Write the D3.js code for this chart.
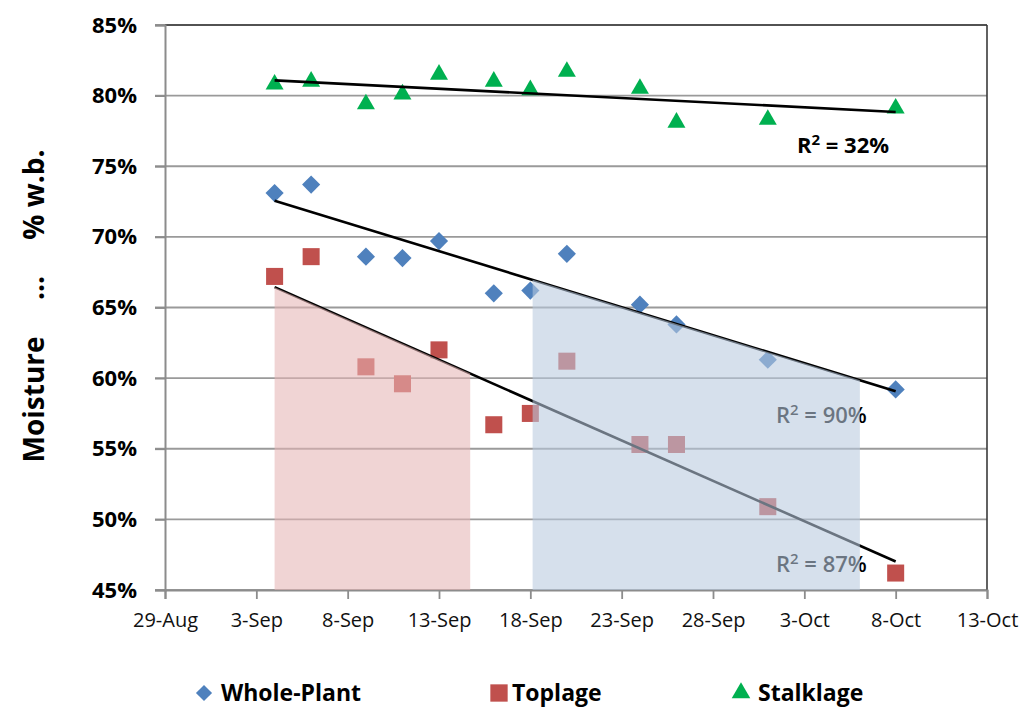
<!DOCTYPE html>
<html>
<head>
<meta charset="utf-8" />
<title>moisture</title>
<script src="https://cdn.jsdelivr.net/npm/d3@7"></script>
<style>
  body { margin: 0; background: #fff; }
  text { font-family: "Open Sans", sans-serif; }
</style>
</head>
<body>
<svg width="1024" height="707"></svg>
<script>
// sample dates and moisture (% w.b.)
var dates = ["2011-09-04", "2011-09-06", "2011-09-09", "2011-09-11", "2011-09-13", "2011-09-16",
             "2011-09-18", "2011-09-20", "2011-09-24", "2011-09-26", "2011-10-01", "2011-10-08"];
var wholePlant = [73.1, 73.7, 68.6, 68.5, 69.7, 66.0, 66.2, 68.8, 65.2, 63.8, 61.3, 59.2];
var toplage    = [67.2, 68.6, 60.8, 59.6, 62.0, 56.7, 57.5, 61.2, 55.3, 55.3, 50.9, 46.2];
var stalklage  = [80.8, 81.0, 79.4, 80.1, 81.5, 81.0, 80.4, 81.7, 80.5, 78.1, 78.3, 79.1];

var seriesNames = ["Whole-Plant", "Toplage", "Stalklage"];
var r2Labels = ["90%", "87%", "32%"];

// axis ticks
var xTickDates = ["2011-08-29", "2011-09-03", "2011-09-08", "2011-09-13", "2011-09-18",
                  "2011-09-23", "2011-09-28", "2011-10-03", "2011-10-08", "2011-10-13"];
var xTickLabels = ["29-Aug", "3-Sep", "8-Sep", "13-Sep", "18-Sep", "23-Sep", "28-Sep", "3-Oct", "8-Oct", "13-Oct"];
var yTicks = [45, 50, 55, 60, 65, 70, 75, 80, 85];

// shaded windows (under the trendlines)
var toplageWindow = ["2011-09-04T00:00", "2011-09-14T17:00"];
var wholeWindow   = ["2011-09-18T03:00", "2011-10-06T01:00"];

var parse = d3.timeParse("%Y-%m-%d");
var parseT = d3.timeParse("%Y-%m-%dT%H:%M");

var svg = d3.select("svg");
var plot = {left: 165, right: 987, top: 25, bottom: 590};

var x = d3.scaleTime()
  .domain([parse(xTickDates[0]), parse(xTickDates[xTickDates.length - 1])])
  .range([plot.left, plot.right]);
var y = d3.scaleLinear().domain([45, 85]).range([plot.bottom, plot.top]);

var colors = ["#4f81bd", "#c0504d", "#00b050"];

// gridlines
svg.append("g").selectAll("line").data(yTicks).join("line")
  .attr("x1", plot.left - 10).attr("x2", plot.right)
  .attr("y1", function(d){ return y(d); }).attr("y2", function(d){ return y(d); })
  .attr("stroke", "#9a9a9a").attr("stroke-width", 1.8);

// plot border: top and right darker
svg.append("line").attr("x1", plot.left).attr("x2", plot.right).attr("y1", plot.top).attr("y2", plot.top)
  .attr("stroke", "#3a3a3a").attr("stroke-width", 1.6);
svg.append("line").attr("x1", plot.right).attr("x2", plot.right).attr("y1", plot.top).attr("y2", plot.bottom)
  .attr("stroke", "#3a3a3a").attr("stroke-width", 1.6);

// y axis
var yAxis = svg.append("g").attr("transform", "translate(" + plot.left + ",0)")
  .call(d3.axisLeft(y).tickValues(yTicks).tickSize(10).tickPadding(18)
    .tickFormat(function(d){ return d + "%"; }));
yAxis.select(".domain").attr("stroke", "#8c8c8c").attr("stroke-width", 2);
yAxis.selectAll(".tick line").attr("stroke", "#8c8c8c").attr("stroke-width", 1.8);
yAxis.selectAll("text").attr("font-size", 22).attr("font-weight", "bold")
  .attr("fill", "#000").attr("font-family", "Open Sans");

// x axis
var xAxis = svg.append("g").attr("transform", "translate(0," + plot.bottom + ")")
  .call(d3.axisBottom(x).tickValues(xTickDates.map(parse)).tickSize(9).tickPadding(14)
    .tickFormat(function(d, i){ return xTickLabels[i]; }));
xAxis.select(".domain").attr("stroke", "#8c8c8c").attr("stroke-width", 2);
xAxis.selectAll(".tick line").attr("stroke", "#8c8c8c").attr("stroke-width", 1.8);
xAxis.selectAll("text").attr("font-size", 20).attr("fill", "#111")
  .attr("font-family", "Open Sans");

// y title
svg.append("text")
  .attr("transform", "translate(44,306) rotate(-90)")
  .attr("text-anchor", "middle")
  .attr("font-size", 28).attr("font-weight", "bold")
  .style("white-space", "pre")
  .text("Moisture     ...     % w.b.");

// data
var series = [wholePlant, toplage, stalklage].map(function(vals, i){
  return { name: seriesNames[i], color: colors[i],
    points: vals.map(function(v, j){ return { date: parse(dates[j]), value: v }; }) };
});

var shapes = [
  d3.symbol().type(d3.symbolSquare).size(165),
  d3.symbol().type(d3.symbolSquare).size(290),
  d3.symbol().type(d3.symbolTriangle).size(140)
];
var rot = [45, 0, 0];

series.forEach(function(s, i){
  svg.append("g").selectAll("path").data(s.points).join("path")
    .attr("d", shapes[i]())
    .attr("transform", function(d){
      return "translate(" + x(d.date) + "," + y(d.value) + ") rotate(" + rot[i] + ")";
    })
    .attr("fill", s.color);
});

// linear trendlines
function fit(points) {
  var xs = points.map(function(p){ return p.date.getTime() / 864e5; });
  var ys = points.map(function(p){ return p.value; });
  var mx = d3.mean(xs), my = d3.mean(ys);
  var sxy = d3.sum(xs, function(v, k){ return (v - mx) * (ys[k] - my); });
  var sxx = d3.sum(xs, function(v){ return (v - mx) * (v - mx); });
  var b = sxy / sxx, a = my - b * mx;
  return function(date){ return a + b * date.getTime() / 864e5; };
}
var fits = series.map(function(s){ return fit(s.points); });

series.forEach(function(s, i){
  var d0 = s.points[0].date, d1 = s.points[s.points.length - 1].date;
  svg.append("line")
    .attr("x1", x(d0)).attr("y1", y(fits[i](d0)))
    .attr("x2", x(d1)).attr("y2", y(fits[i](d1)))
    .attr("stroke", "#000").attr("stroke-width", 2.6);
});

// R² labels
function r2Text(px, py, label, weight) {
  var t = svg.append("text").attr("x", px).attr("y", py)
    .attr("font-size", 22).attr("font-weight", weight).attr("fill", "#000");
  t.append("tspan").text("R");
  t.append("tspan").attr("font-size", 15).attr("dy", -8).text("2");
  t.append("tspan").attr("dy", 8).text(" = " + label);
}
r2Text(797, 153, r2Labels[2], "bold");
r2Text(776, 423, r2Labels[0], 600);
r2Text(776, 572, r2Labels[1], 600);

// shaded windows drawn over everything
var area = d3.area()
  .x(function(d){ return x(d.date); })
  .y0(y(45))
  .y1(function(d){ return y(d.value); });

function windowPts(win, f) {
  return win.map(parseT).map(function(dt){ return { date: dt, value: f(dt) }; });
}
svg.append("path").datum(windowPts(toplageWindow, fits[1]))
  .attr("d", area).attr("fill", "rgb(229,181,181)").attr("fill-opacity", 0.58);
svg.append("path").datum(windowPts(wholeWindow, fits[0]))
  .attr("d", area).attr("fill", "rgb(184,202,222)").attr("fill-opacity", 0.58);

// legend
var legendX = [204, 499, 741];
var legendY = 693;
var legendShapes = [
  d3.symbol().type(d3.symbolSquare).size(130),
  d3.symbol().type(d3.symbolSquare).size(300),
  d3.symbol().type(d3.symbolTriangle).size(150)
];
series.forEach(function(s, i){
  svg.append("path").attr("d", legendShapes[i]())
    .attr("transform", "translate(" + legendX[i] + "," + legendY + ") rotate(" + rot[i] + ")")
    .attr("fill", s.color);
  svg.append("text").attr("x", legendX[i] + (i === 1 ? 13 : 17)).attr("y", legendY + 8)
    .attr("font-size", 23).attr("font-weight", "bold").attr("fill", "#000")
    .text(s.name);
});
</script>
</body>
</html>
